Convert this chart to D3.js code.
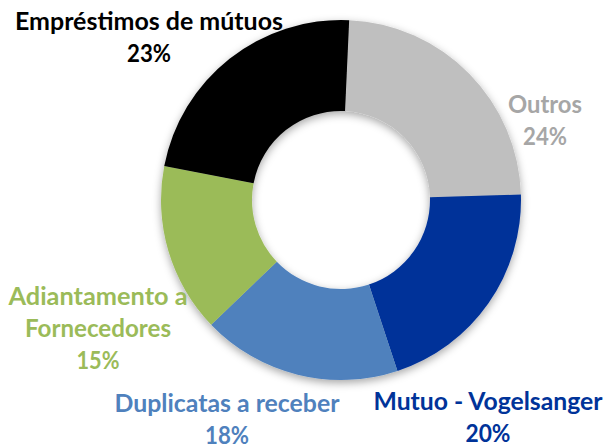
<!DOCTYPE html>
<html>
<head>
<meta charset="utf-8">
<script src="https://cdn.jsdelivr.net/npm/d3@7"></script>
<style>
  html, body { margin: 0; padding: 0; background: #fff; }
  svg { display: block; }
  .lbl { font-family: Lato, "Open Sans", sans-serif; font-weight: 700; font-size: 24px; }
</style>
</head>
<body>
<svg id="chart" width="605" height="446"></svg>
<script>
// dados (fatia em %)
const categories = ['Outros', 'Mutuo - Vogelsanger', 'Duplicatas a receber', 'Adiantamento a Fornecedores', 'Empréstimos de mútuos'];
const values = [23.8, 20.4, 17.9, 15.2, 22.7];
const sliceColors = ['#BFBFBF', '#003399', '#4F81BD', '#9BBB59', '#000000'];
const labelColors = ['#A6A6A6', '#003399', '#4F81BD', '#9BBB59', '#000000'];

// layout
const width = 605, height = 446;
const cx = 341, cy = 200;
const outerR = 180, innerR = 89;
const rot = 2.6 * Math.PI / 180; // primeira fatia levemente girada
const lineH = 32;
// centro (x, y da primeira linha) e largura das linhas de cada rótulo
const labelPos = [
  {x: 545, y: 105, lines: ['Outros'], w: [74, 44]},
  {x: 488, y: 402, lines: ['Mutuo - Vogelsanger'], w: [229, 45]},
  {x: 227, y: 404, lines: ['Duplicatas a receber'], w: [225, 44]},
  {x: 98, y: 297, lines: ['Adiantamento a', 'Fornecedores'], w: [179, 146, 43]},
  {x: 149, y: 22, lines: ['Empréstimos de mútuos'], w: [268, 44]}
];

const svg = d3.select('#chart');

const defs = svg.append('defs');
const f = defs.append('filter').attr('id', 'shadow')
  .attr('x', '-20%').attr('y', '-20%').attr('width', '140%').attr('height', '140%');
f.append('feDropShadow')
  .attr('dx', 0).attr('dy', 3)
  .attr('stdDeviation', 4)
  .attr('flood-color', '#000').attr('flood-opacity', 0.35);

const total = d3.sum(values);
const pct = d3.format('.0%');

const pie = d3.pie().sort(null).value(d => d)
  .startAngle(rot).endAngle(rot + 2 * Math.PI);
const arc = d3.arc().innerRadius(innerR).outerRadius(outerR);

const g = svg.append('g')
  .attr('transform', `translate(${cx},${cy})`)
  .attr('filter', 'url(#shadow)');

g.selectAll('path')
  .data(pie(values))
  .enter().append('path')
  .attr('d', arc)
  .attr('fill', (d, i) => sliceColors[i]);

// rótulos
categories.forEach((c, i) => {
  const p = labelPos[i];
  const lines = p.lines.concat([pct(values[i] / total)]);
  const t = svg.append('text')
    .attr('class', 'lbl')
    .attr('fill', labelColors[i])
    .attr('text-anchor', 'middle');
  lines.forEach((ln, j) => {
    t.append('tspan')
      .attr('x', p.x)
      .attr('y', p.y + j * lineH + 8)
      .attr('textLength', p.w[j])
      .attr('lengthAdjust', 'spacingAndGlyphs')
      .text(ln);
  });
});
</script>
</body>
</html>
